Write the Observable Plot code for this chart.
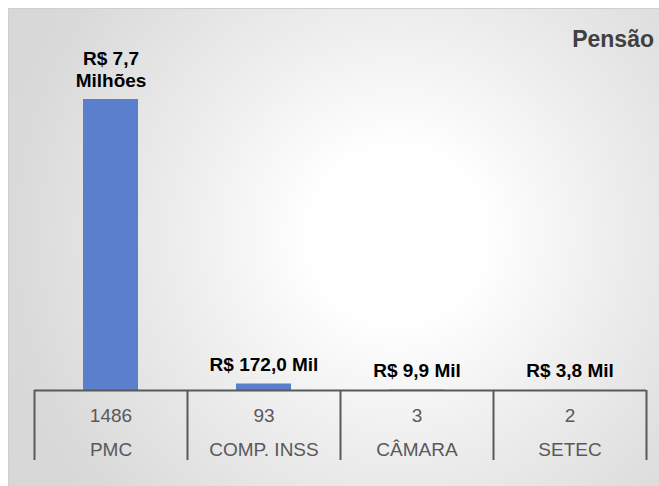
<!DOCTYPE html>
<html>
<head>
<meta charset="utf-8">
<script src="https://cdn.jsdelivr.net/npm/d3@7"></script>
<script src="https://cdn.jsdelivr.net/npm/@observablehq/plot@0.6"></script>
<style>
  html, body { margin: 0; padding: 0; background: #ffffff; }
  body { width: 659px; height: 486px; position: relative; overflow: hidden; font-family: "Liberation Sans", Arial, sans-serif; }
  #panel {
    position: absolute; left: 8px; top: 8px; width: 660px; height: 490px;
    border-top: 1px solid #cfcfcf; border-left: 1px solid #cfcfcf;
    background: radial-gradient(circle at 388px 226px, #ffffff 0px, #ffffff 85px, #ececec 228px, #d9d9d9 390px, #d6d6d6 520px);
  }
  #chart { position: absolute; left: 0; top: 0; }
  #title {
    position: absolute; right: 5px; top: 28px; line-height: 23px;
    font-size: 23px; font-weight: bold; color: #404040;
  }
</style>
</head>
<body>
<div id="panel"></div>
<div id="chart"></div>
<div id="title">Pensão</div>
<script>
const categories = ["PMC", "COMP. INSS", "CÂMARA", "SETEC"];
const values = [7700000, 172000, 9900, 3800];
const counts = [1486, 93, 3, 2];
const valueLabels = ["R$ 7,7\nMilhões", "R$ 172,0 Mil", "R$ 9,9 Mil", "R$ 3,8 Mil"];

const rows = categories.map((cat, i) => ({cat, value: values[i], count: counts[i], label: valueLabels[i]}));
const last = rows.slice(-1);
const font = "'Liberation Sans', Arial, sans-serif";
const lineColor = "#595959";

const chart = Plot.plot({
  width: 659,
  height: 486,
  marginLeft: 34,
  marginRight: 13,
  marginTop: 99,
  marginBottom: 96,
  style: {background: "transparent", fontFamily: font, overflow: "visible"},
  x: {type: "band", domain: categories, padding: 0, axis: null},
  y: {domain: [0, 7700000], axis: null},
  marks: [
    Plot.barY(rows, {x: "cat", y: "value", fill: "#5b7fcc", insetLeft: 49, insetRight: 49}),
    Plot.ruleY([0], {stroke: lineColor, strokeWidth: 2}),
    Plot.ruleX(rows, {x: "cat", y1: 0, y2: 0, dx: -76.5, insetBottom: -70, stroke: lineColor, strokeWidth: 2}),
    Plot.ruleX(last, {x: "cat", y1: 0, y2: 0, dx: 76.5, insetBottom: -70, stroke: lineColor, strokeWidth: 2}),
    Plot.text(rows, {x: "cat", y: "value", text: "label", lineAnchor: "bottom", lineHeight: 1.15, dy: -13, fontSize: 19, fontWeight: "bold", fill: "#000000"}),
    Plot.text(rows, {x: "cat", y: 0, text: d => String(d.count), dy: 25, fontSize: 19, fill: lineColor}),
    Plot.text(rows, {x: "cat", y: 0, text: "cat", dy: 59, fontSize: 19, fill: lineColor})
  ]
});
document.getElementById("chart").appendChild(chart);
</script>
</body>
</html>
